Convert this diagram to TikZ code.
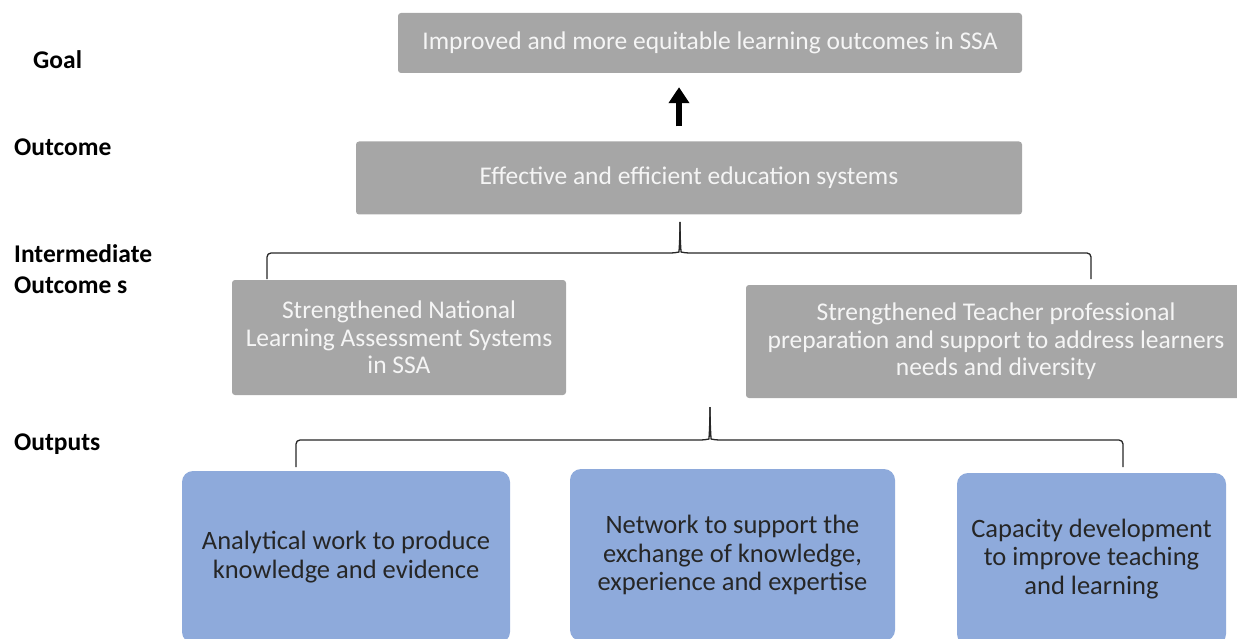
\documentclass[tikz,border=0pt]{standalone}
\usepackage{fontspec}
\setmainfont{Carlito}
\usetikzlibrary{arrows.meta, positioning}

\definecolor{boxgray}{HTML}{A6A6A6}
\definecolor{boxblue}{HTML}{8EAADB}
\definecolor{paletext}{HTML}{F5F5F5}

\tikzset{
  graybox/.style={fill=boxgray, rounded corners=3pt, text=paletext, align=center,
    inner sep=0pt, font=\fontsize{25.5}{27.5}\selectfont},
  bluebox/.style={fill=boxblue, rounded corners=11pt, text=black!85, align=center,
    inner sep=0pt, minimum height=172, font=\fontsize{26.5}{28.5}\selectfont},
  level/.style={anchor=west, align=left, inner sep=0pt, font=\fontsize{25.5}{31}\selectfont\bfseries},
  bigarrow/.style={line width=6pt, -{Triangle[length=16pt, width=20pt]}},
  bracket/.style={line width=1.3pt, black!85, rounded corners=4pt},
}

\begin{document}
\begin{tikzpicture}[x=1pt, y=-1pt]
  \useasboundingbox (0,0) rectangle (1237,639);
  \clip (0,0) rectangle (1237,639);

  % level labels
  \node[level] (lgoal) at (33,60) {Goal};
  \node[level] (loutc) at (14,147) {Outcome};
  \node[level] (linter) at (14,269) {Intermediate\\Outcome s};
  \node[level] (loutp) at (14,444) {Outputs};

  % boxes
  \node[graybox, minimum width=624, minimum height=60] (goal) at (710,43)
    {Improved and more equitable learning outcomes in SSA};
  \node[graybox, minimum width=666, minimum height=73] (outc) at (689,178)
    {Effective and efficient education systems};
  \node[graybox, minimum width=334, minimum height=115] (io1) at (399,337.5)
    {Strengthened National\\Learning Assessment Systems\\in SSA};
  \node[graybox, minimum width=500, minimum height=113] (io2) at (996,341.5)
    {Strengthened Teacher professional\\preparation and support to address learners\\needs and diversity};

  \node[bluebox, minimum width=328] (out1) at (346,557)
    {Analytical work to produce\\knowledge and evidence};
  \node[bluebox, minimum width=325] (out2) at (732.5,555)
    {Network to support the\\exchange of knowledge,\\experience and expertise};
  \node[bluebox, minimum width=269] (out3) at (1091.5,559)
    {Capacity development\\to improve teaching\\and learning};

  % arrow goal <- outcome
  \coordinate (ax) at (679,0);
  \draw[bigarrow, shorten <=15pt, shorten >=14pt] (outc.north -| ax) -- (goal.south -| ax);

  % bracket outcome -> intermediate outcomes
  \coordinate (b1) at (680,222);
  \coordinate (b1l) at (267,279);
  \coordinate (b1r) at (1091,279);
  \draw[bracket] (b1l) |- (675,253) .. controls (679,252) and (680,240) .. (b1);
  \draw[bracket] (b1r) |- (685,253) .. controls (681,252) and (680,240) .. (b1);

  % bracket intermediate outcomes -> outputs
  \coordinate (b2) at (710,407);
  \coordinate (b2l) at (296,467);
  \coordinate (b2r) at (1123,467);
  \draw[bracket] (b2l) |- (705,440) .. controls (709,439) and (710,425) .. (b2);
  \draw[bracket] (b2r) |- (715,440) .. controls (711,439) and (710,425) .. (b2);
\end{tikzpicture}
\end{document}
